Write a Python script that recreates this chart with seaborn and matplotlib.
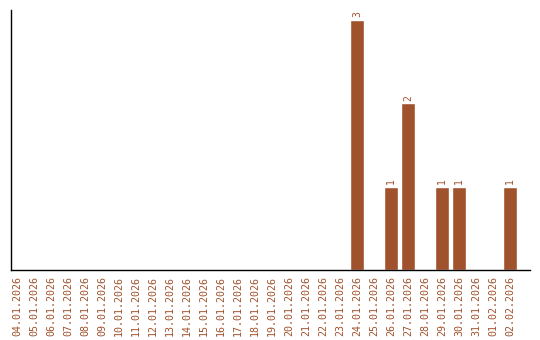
import matplotlib
matplotlib.use("Agg")
import matplotlib.pyplot as plt
import seaborn as sns
import pandas as pd

dates = ["04.01.2026", "05.01.2026", "06.01.2026", "07.01.2026", "08.01.2026",
         "09.01.2026", "10.01.2026", "11.01.2026", "12.01.2026", "13.01.2026",
         "14.01.2026", "15.01.2026", "16.01.2026", "17.01.2026", "18.01.2026",
         "19.01.2026", "20.01.2026", "21.01.2026", "22.01.2026", "23.01.2026",
         "24.01.2026", "25.01.2026", "26.01.2026", "27.01.2026", "28.01.2026",
         "29.01.2026", "30.01.2026", "31.01.2026", "01.02.2026", "02.02.2026"]
counts = [0, 0, 0, 0, 0, 0, 0, 0, 0, 0,
          0, 0, 0, 0, 0, 0, 0, 0, 0, 0,
          3, 0, 1, 2, 0, 1, 1, 0, 0, 1]

color = "#A0522D"
sns.set_style("white")

df = pd.DataFrame({"date": dates, "count": counts})
fig = plt.figure(figsize=(5.4, 3.4), dpi=100)
ax = fig.add_axes([0.0195, 0.206, 0.9620, 0.765])
sns.barplot(data=df, x="date", y="count", color=color, saturation=1, width=0.82, ax=ax)
ax.set_ylim(0, 3.12)
ax.set_xlim(-0.38, 30.18)
ax.set_xlabel("")
ax.set_ylabel("")
ax.set_yticks([])
ax.tick_params(axis="x", length=0, pad=4, labelsize=7.2, labelcolor=color, rotation=90)
for lbl in ax.get_xticklabels():
    lbl.set_fontfamily("DejaVu Sans Mono")
for s in ["top", "right"]:
    ax.spines[s].set_visible(False)
for s in ["left", "bottom"]:
    ax.spines[s].set_color("black")
    ax.spines[s].set_linewidth(1)

for i, v in enumerate(counts):
    if v > 0:
        ax.text(i, v + 0.03, str(v), rotation=90, ha="center", va="bottom",
                fontsize=7, color=color, family="DejaVu Sans Mono")

fig.savefig("out.png", dpi=100)
